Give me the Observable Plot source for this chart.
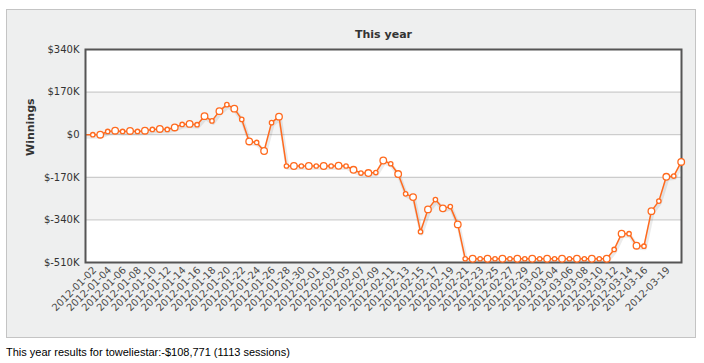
<!DOCTYPE html>
<html><head><meta charset="utf-8">
<script src="https://cdn.jsdelivr.net/npm/d3@7"></script>
<script src="https://cdn.jsdelivr.net/npm/@observablehq/plot@0.6"></script>
<style>
body{margin:0;background:#fff;}
#panel{position:absolute;left:6px;top:9px;width:688px;height:327px;background:#eeefef;border:1px solid #c4c4c4;}
#caption{position:absolute;left:6px;top:346px;font:11px "Liberation Sans",Arial,sans-serif;color:#000;white-space:nowrap;}
</style></head><body>
<div id="panel"></div>
<div id="caption">This year results for toweliestar:-$108,771 (1113 sessions)</div>
<script>
// Cumulative winnings in thousands of dollars, one value per day starting 2012-01-02
const firstDay = "2012-01-02";
const openingDay = "2012-01-01";
const openingValue = 0;
const values = [
  0, 0, 13, 16, 13, 15, 13, 16, 21, 23,
  21, 29, 41, 43, 40, 74, 55, 94, 120, 104,
  61, -27, -31, -65, 48, 72, -125, -125, -125, -125,
  -125, -125, -125, -124, -125, -140, -153, -153, -151, -103,
  -116, -157, -236, -249, -387, -298, -259, -294, -287, -358,
  -495, -495, -495, -495, -495, -495, -495, -495, -495, -495,
  -495, -495, -495, -495, -495, -495, -495, -495, -495, -495,
  -458, -395, -395, -443, -445, -305, -265, -168, -165, -108.771
];
const xTickLabels = [
  "2012-01-02","2012-01-04","2012-01-06","2012-01-08","2012-01-10","2012-01-12","2012-01-14",
  "2012-01-16","2012-01-18","2012-01-20","2012-01-22","2012-01-24","2012-01-26","2012-01-28",
  "2012-01-30","2012-02-01","2012-02-03","2012-02-05","2012-02-07","2012-02-09","2012-02-11",
  "2012-02-13","2012-02-15","2012-02-17","2012-02-19","2012-02-21","2012-02-23","2012-02-25",
  "2012-02-27","2012-02-29","2012-03-02","2012-03-04","2012-03-06","2012-03-08","2012-03-10",
  "2012-03-12","2012-03-14","2012-03-16","2012-03-19"
];
const yTicks = [-510, -340, -170, 0, 170, 340];
const bands = [[0, 170], [-340, -170]];
const gridLines = [-340, -170, 0, 170];

const start = new Date(firstDay);
const data = values.map((v, i) => ({date: d3.utcDay.offset(start, i), value: v, i}));
const lineData = [{date: new Date(openingDay), value: openingValue}, ...data];
const orange = "#ff6a1e";
const fmtY = d => d === 0 ? "$0" : `$${d}K`;

const chart = Plot.plot({
  width: 688, height: 327,
  marginLeft: 78, marginRight: 14, marginTop: 39, marginBottom: 75,
  style: {fontFamily: "DejaVu Sans", fontSize: "10px", background: "transparent", overflow: "visible"},
  x: {type: "utc", domain: [new Date(Date.UTC(2012,0,1,0,29)), new Date(Date.UTC(2012,2,21,0,58))]},
  y: {domain: [-510, 340]},
  marks: [
    Plot.frame({fill: "#fff"}),
    Plot.rect(bands, {y1: d => d[0], y2: d => d[1], fill: "#f4f4f4"}),
    Plot.ruleY(gridLines, {stroke: "#c2c2c2", strokeWidth: 1}),
    Plot.line(lineData, {x: "date", y: "value", stroke: "#000", strokeOpacity: 0.08, strokeWidth: 4, dx: 1, dy: 2, clip: true}),
    Plot.line(lineData, {x: "date", y: "value", stroke: orange, strokeWidth: 1.5, clip: true}),
    Plot.frame({stroke: "#555", strokeWidth: 2}),
    Plot.dot(data.filter(d => d.i % 2 === 0), {x: "date", y: "value", r: 2.2, fill: "#fff", stroke: orange, strokeWidth: 1.3}),
    Plot.dot(data.filter(d => d.i % 2 === 1), {x: "date", y: "value", r: 3.3, fill: "#fff", stroke: orange, strokeWidth: 1.3}),
    Plot.axisY({ticks: yTicks, tickFormat: fmtY, tickSize: 0, tickPadding: 6, fill: "#333", label: null}),
    Plot.axisX({ticks: xTickLabels.map(s => new Date(s)), tickFormat: d3.utcFormat("%Y-%m-%d"), tickRotate: -45, tickSize: 0, tickPadding: 6, dx: 2, fill: "#4a4a4a", label: null}),
    Plot.text(["This year"], {frameAnchor: "top", dy: -19, fontWeight: "bold", fontSize: 11, fill: "#333"}),
    Plot.text(["Winnings"], {frameAnchor: "left", dx: -55, rotate: -90, fontWeight: "bold", fontSize: 11, fill: "#333"})
  ]
});
document.getElementById("panel").appendChild(chart);
</script>
</body></html>
